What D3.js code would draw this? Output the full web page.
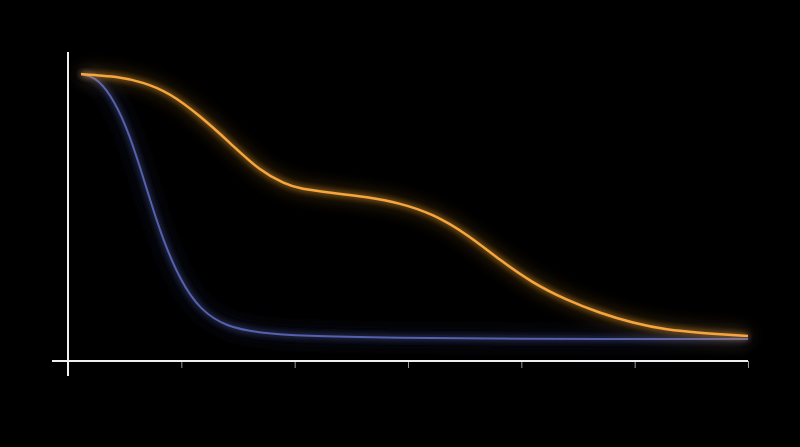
<!DOCTYPE html>
<html>
<head>
<meta charset="utf-8">
<script src="https://cdn.jsdelivr.net/npm/d3@7"></script>
<style>
  html, body { margin: 0; padding: 0; background: #000; }
  svg { display: block; }
</style>
</head>
<body>
<svg id="chart" width="800" height="447"></svg>
<script>
// ---- data ----
const xTicks = [0, 1, 2, 3, 4, 5, 6];
const orangeX = [0.115, 0.22, 0.415, 0.662, 0.9, 1.165, 1.43, 1.694, 1.915, 2.047, 2.338, 2.638, 2.93, 3.22, 3.52, 3.81, 4.10, 4.40, 4.69, 4.985, 5.285, 5.577, 6.0];
const orangeY = [1.0, 0.996, 0.991, 0.970, 0.928, 0.842, 0.740, 0.634, 0.585, 0.566, 0.551, 0.536, 0.513, 0.472, 0.396, 0.298, 0.211, 0.147, 0.098, 0.060, 0.034, 0.023, 0.011];
const blueX = [0.115, 0.238, 0.37, 0.52, 0.635, 0.724, 0.838, 0.988, 1.165, 1.403, 1.694, 2.047, 2.93, 3.81, 6.0];
const blueY = [1.0, 0.989, 0.928, 0.8, 0.649, 0.525, 0.374, 0.223, 0.109, 0.045, 0.023, 0.011, 0.004, 0.0, 0.0];

const svg = d3.select("#chart");
svg.append("rect").attr("width", 800).attr("height", 447).attr("fill", "#000");

const x = d3.scaleLinear().domain([0, 6]).range([68, 748]);
const y = d3.scaleLinear().domain([-0.083, 1.083]).range([361, 52]);

// glow filters
const defs = svg.append("defs");
function glow(id, sd) {
  const f = defs.append("filter").attr("id", id)
    .attr("x", "-20%").attr("y", "-20%").attr("width", "140%").attr("height", "140%");
  f.append("feGaussianBlur").attr("in", "SourceGraphic").attr("stdDeviation", sd).attr("result", "b1");
  f.append("feGaussianBlur").attr("in", "SourceGraphic").attr("stdDeviation", sd * 3).attr("result", "b2");
  const m = f.append("feMerge");
  m.append("feMergeNode").attr("in", "b2");
  m.append("feMergeNode").attr("in", "b1");
  m.append("feMergeNode").attr("in", "SourceGraphic");
}
glow("glowO", 3);
glow("glowB", 3);

// axes
const xAxis = d3.axisBottom(x).tickValues(xTicks).tickSize(7).tickSizeOuter(0).tickFormat("");
const gx = svg.append("g").attr("transform", `translate(0,${y(-0.083)})`).call(xAxis);
gx.select(".domain").remove();
gx.selectAll(".tick line").attr("stroke", "#9a9a9a").attr("stroke-width", 1);

svg.append("line")
  .attr("x1", x(0) - 16).attr("x2", x(6))
  .attr("y1", y(-0.083)).attr("y2", y(-0.083))
  .attr("stroke", "#f0f0f0").attr("stroke-width", 2);
svg.append("line")
  .attr("x1", x(0)).attr("x2", x(0))
  .attr("y1", y(1.083)).attr("y2", y(-0.083) + 15)
  .attr("stroke", "#f0f0f0").attr("stroke-width", 2);

// lines
const line = d3.line().x(d => x(d[0])).y(d => y(d[1])).curve(d3.curveBasis);
const blueData = blueX.map((v, i) => [v, blueY[i]]);
const orangeData = orangeX.map((v, i) => [v, orangeY[i]]);

svg.append("path").datum(blueData)
  .attr("d", line).attr("fill", "none")
  .attr("stroke", "#5461ae").attr("stroke-width", 2)
  .attr("filter", "url(#glowB)");
svg.append("path").datum(orangeData)
  .attr("d", line).attr("fill", "none")
  .attr("stroke", "#f6a63c").attr("stroke-width", 2.5)
  .attr("filter", "url(#glowO)");
</script>
</body>
</html>
